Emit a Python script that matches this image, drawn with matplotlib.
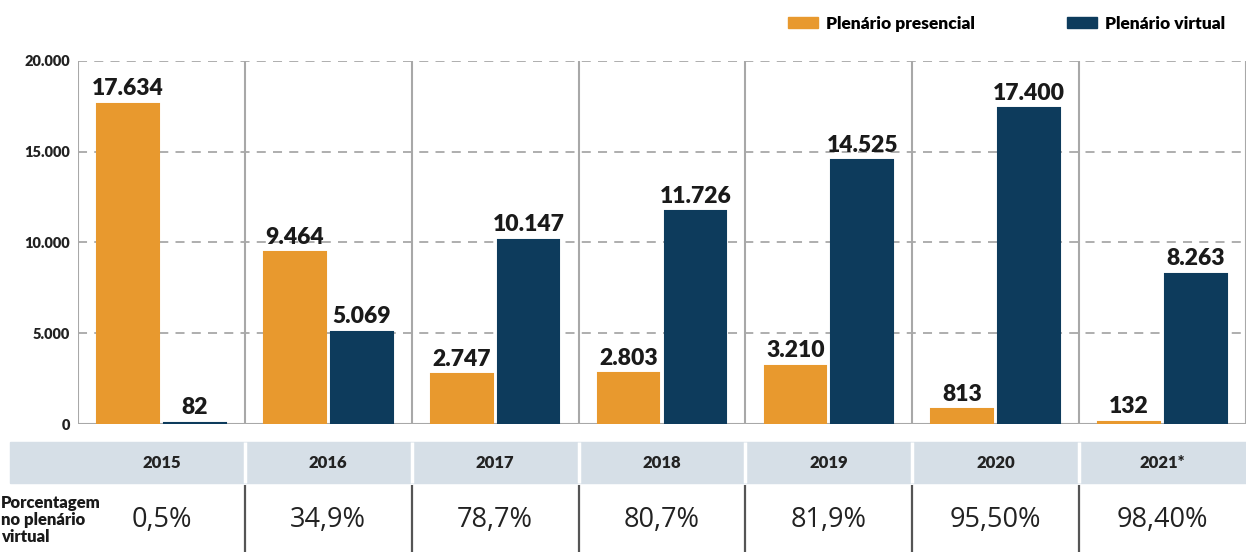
# Plenário presencial x virtual, grouped bars with a small table underneath
import matplotlib.pyplot as plt
from matplotlib.patches import Rectangle, Patch

plt.rcParams["font.family"] = ["Lato", "DejaVu Sans"]

# data
years = ["2015", "2016", "2017", "2018", "2019", "2020", "2021*"]
presencial = [17634, 9464, 2747, 2803, 3210, 813, 132]
virtual = [82, 5069, 10147, 11726, 14525, 17400, 8263]
pct_virtual = ["0,5%", "34,9%", "78,7%", "80,7%", "81,9%", "95,50%", "98,40%"]
yticks = [0, 5000, 10000, 15000, 20000]
ytick_labels = ["0", "5.000", "10.000", "15.000", "20.000"]

orange = "#E8992E"
navy = "#0D3B5C"
header_bg = "#D6DFE7"
grid_c = "#A8A8A8"

W, H = 1246, 552
fig = plt.figure(figsize=(W / 100, H / 100), dpi=100)

# main bar axes, placed in pixels
ax = fig.add_axes([78 / W, (H - 424) / H, (W - 78) / W, (424 - 61) / H])
n = len(years)
xs = range(n)
bw = 0.37
ax.bar([i + 0.3 for i in xs], presencial, width=bw, color=orange,
       edgecolor=orange, linewidth=1.5, zorder=3)
ax.bar([i + 0.7 for i in xs], virtual, width=bw, color=navy,
       edgecolor=navy, linewidth=1.5, zorder=3)

def fmt(v):
    return f"{v:,}".replace(",", ".")

for i in xs:
    ax.text(i + 0.3, presencial[i] + 250, fmt(presencial[i]), ha="center", va="bottom",
            fontsize=16.5, fontweight="heavy", color="#1a1a1a", zorder=4)
    ax.text(i + 0.7, virtual[i] + 250, fmt(virtual[i]), ha="center", va="bottom",
            fontsize=16.5, fontweight="heavy", color="#1a1a1a", zorder=4)

ax.set_xlim(0, n)
ax.set_ylim(0, 20000)
ax.set_yticks(yticks)
ax.set_yticklabels(ytick_labels, fontsize=10.5, fontweight="heavy", color="#222222")
ax.tick_params(axis="y", length=0, pad=6)
ax.set_xticks([])
for s in ax.spines.values():
    s.set_visible(False)

# dashed horizontal grid + solid group separators
for y in yticks[1:]:
    ax.axhline(y, color=grid_c, lw=1.3, ls=(0, (5, 4)), zorder=1)
ax.axhline(0, color=grid_c, lw=1.5, zorder=2)
for x in range(n + 1):
    ax.vlines(x, 0, 20000, color=grid_c, lw=1.5, zorder=2)

# table under the chart, y in pixels from its top
axt = fig.add_axes([78 / W, 0, (W - 78) / W, (H - 440) / H])
axt.set_xlim(0, n)
axt.set_ylim(112, 0)
axt.axis("off")
axt.add_patch(Rectangle((-0.41, 2), n + 0.41, 41, color=header_bg, clip_on=False))
for x in range(1, n):
    axt.vlines(x, 2, 43, color="white", lw=2.5)
    axt.vlines(x, 45, 112, color="#555555", lw=1.6)
for i in xs:
    axt.text(i + 0.5, 23, years[i], ha="center", va="center",
             fontsize=12, fontweight="heavy", color="#222222")
    axt.text(i + 0.5, 80, pct_virtual[i], ha="center", va="center",
             fontsize=19.5, family=["Open Sans", "DejaVu Sans"], color="#222222")
axt.text(-0.46, 80, "Porcentagem\nno plenário\nvirtual", ha="left", va="center",
         fontsize=12, fontweight="heavy", color="#1a1a1a", linespacing=1.05,
         clip_on=False)

# legend top right
handles = [Patch(color=orange, label="Plenário presencial"),
           Patch(color=navy, label="Plenário virtual")]
fig.legend(handles=handles, loc="upper right", bbox_to_anchor=(0.996, 1.0), ncol=2,
           frameon=False, prop={"weight": "heavy", "size": 12.5},
           handlelength=1.7, handleheight=0.6, columnspacing=5.3, handletextpad=0.5)

fig.savefig("out.png", dpi=100, facecolor="white")
